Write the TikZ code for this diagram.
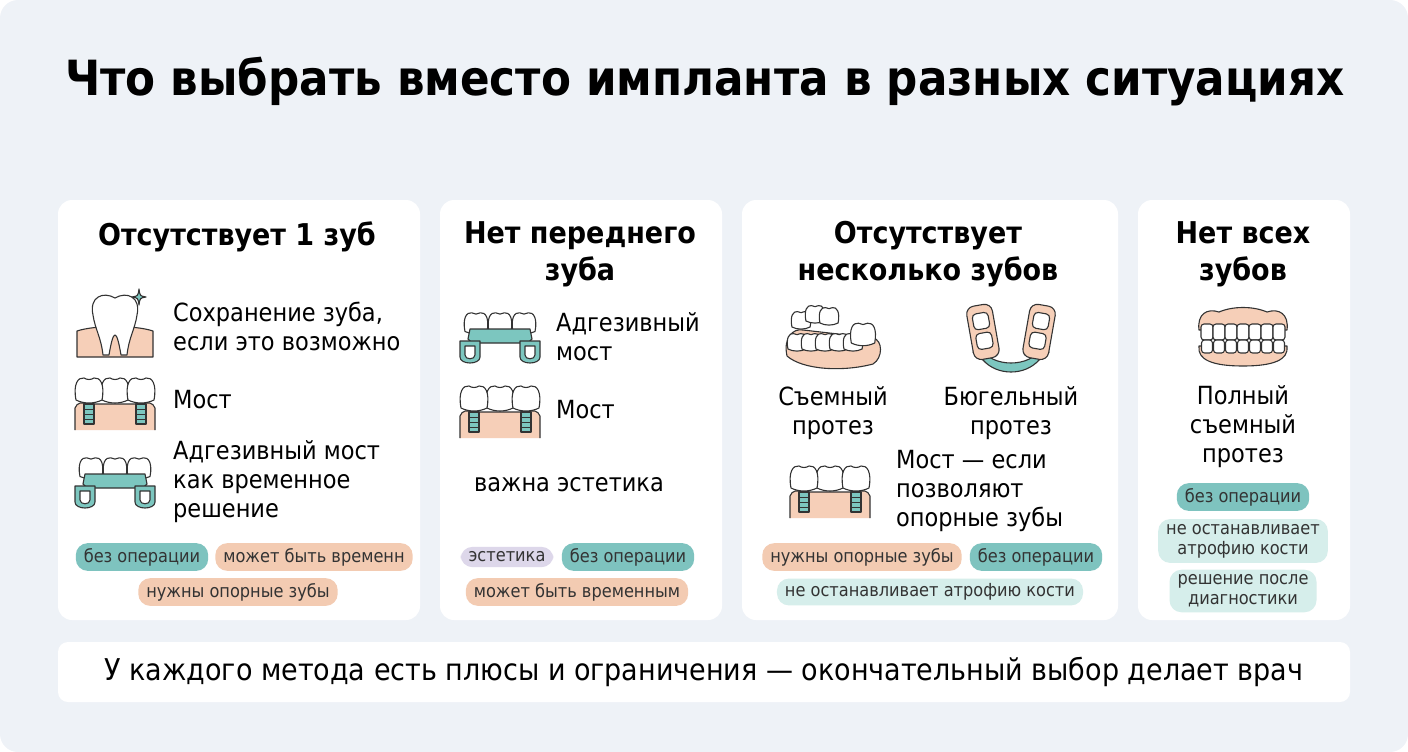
\documentclass[tikz,border=0pt]{standalone}
\usepackage{fontspec}
\setmainfont{DejaVu Sans Condensed}
\usetikzlibrary{positioning}
\definecolor{bgblue}{HTML}{EEF2F7}
\definecolor{tagteal}{HTML}{7EC3BF}
\definecolor{tagpeach}{HTML}{F3CBB2}
\definecolor{taglight}{HTML}{D6EEEB}
\definecolor{taglav}{HTML}{DDD7EA}
\definecolor{gumpeach}{HTML}{F6CFB8}
\definecolor{iconteal}{HTML}{7CC6BF}
\definecolor{inkgray}{HTML}{333333}

\tikzset{
  card/.style={fill=white, rounded corners=14pt, draw=none},
  head/.style={font=\bfseries\fontsize{30}{37}\selectfont, align=center},
  body/.style={font=\fontsize{25}{29}\selectfont, align=left, anchor=west, inner sep=0pt},
  bodyc/.style={font=\fontsize{25}{29}\selectfont, align=center, inner sep=0pt},
  tag/.style={rounded corners=12pt, font=\fontsize{18}{20}\selectfont, align=center,
    inner xsep=8pt, inner ysep=5pt, text=inkgray},
  ln/.style={draw=inkgray, line width=1.1pt, line join=round},
  pics/crown/.style={code={
    \path[ln, fill=white] (-13,10) .. controls (-16,-6) and (-11,-13) .. (-5,-12)
      .. controls (-2,-10) and (2,-10) .. (5,-12) .. controls (11,-13) and (16,-6) .. (13,10)
      .. controls (5,14) and (-5,14) .. (-13,10) -- cycle;}},
  pics/screw/.style={code={
    \path[ln, fill=iconteal] (-5,0) rectangle (5,20);
    \foreach \s in {5,10,15} \draw[inkgray, line width=0.8pt] (-5,\s) -- (5,\s);}},
  pics/gum/.style={code={
    \path[ln, fill=gumpeach] (-40,30) -- (-40,8) .. controls (-38,2) and (-32,2) .. (-28,4)
      -- (28,4) .. controls (32,2) and (38,2) .. (40,8) -- (40,30);}},
  pics/bridge/.style={code={
    \pic at (0,-2) {gum};
    \pic at (-26,2) {screw};
    \pic at (26,2) {screw};
    \pic at (0,-12) {crown};
    \pic at (-26,-12) {crown};
    \pic at (26,-12) {crown};}},
  pics/adhesive/.style={code={
    \foreach \cx in {-24,0,24} \pic[scale=0.85] at (\cx,-10) {crown};
    \path[ln, fill=iconteal] (-30,-4) -- (30,-4) -- (32,6) -- (28,10) -- (-28,10) -- (-32,6) -- cycle;
    \foreach \sx in {-30,30} {
      \path[ln, fill=iconteal] (\sx-10,8) -- (\sx+10,8) -- (\sx+10,24) .. controls (\sx+10,32) and (\sx-10,32) .. (\sx-10,24) -- cycle;
      \path[ln, fill=white] (\sx-5,13) -- (\sx+5,13) -- (\sx+5,22) .. controls (\sx+5,27) and (\sx-5,27) .. (\sx-5,22) -- cycle;}}},
  pics/tooth/.style={code={
    \path[ln, fill=gumpeach] (-38,32) -- (-38,6) .. controls (-20,0) and (20,0) .. (38,6) -- (38,32) -- cycle;
    \path[ln, fill=white] (-22,-10) .. controls (-26,-28) and (-12,-34) .. (0,-27)
      .. controls (12,-34) and (26,-28) .. (22,-10) .. controls (20,4) and (14,12) .. (12,30)
      -- (6,30) .. controls (4,18) and (2,10) .. (0,10) .. controls (-2,10) and (-4,18) .. (-6,30)
      -- (-12,30) .. controls (-14,12) and (-20,4) .. (-22,-10) -- cycle;
    \path[ln, fill=iconteal] (24,-36) .. controls (25,-29) .. (31,-28) .. controls (25,-27) .. (24,-20)
      .. controls (23,-27) .. (17,-28) .. controls (23,-29) .. (24,-36) -- cycle;}},
  pics/partial/.style={code={
    \path[ln, fill=gumpeach] (-46,18) .. controls (-50,0) and (-40,-10) .. (-30,-8) -- (40,0)
      .. controls (50,2) and (50,20) .. (40,26) .. controls (10,34) and (-30,32) .. (-46,18) -- cycle;
    \foreach \cx/\cy in {-32/-18,-18/-24,-4/-22} \pic[scale=0.7] at (\cx,\cy) {crown};
    \foreach \cx in {-36,-22,-8,6,20} \pic[scale=0.7] at (\cx,4) {crown};
    \pic[scale=0.9] at (30,-4) {crown};}},
  pics/bugel/.style={code={
    \path[ln, fill=iconteal] (-30,18) .. controls (-20,38) and (20,38) .. (30,18)
      -- (38,22) .. controls (34,28) .. (28,30) .. controls (14,46) and (-14,46) .. (-28,30)
      .. controls (-34,28) .. (-38,22) -- cycle;
    \foreach \sx in {-1,1} {
      \path[ln, fill=gumpeach, rounded corners=8pt, rotate=\sx*-10] (\sx*28-13,-30) rectangle (\sx*28+13,24);
      \foreach \ty in {-14,6} \path[ln, fill=white, rounded corners=4pt, rotate=\sx*-10] (\sx*28-8,\ty-8) rectangle (\sx*28+8,\ty+8);}}},
  pics/fulldent/.style={code={
    \path[ln, fill=gumpeach] (-44,-8) .. controls (-46,-24) and (-36,-30) .. (-24,-26)
      .. controls (-10,-32) and (10,-32) .. (24,-26) .. controls (36,-30) and (46,-24) .. (44,-8) -- cycle;
    \path[ln, fill=gumpeach] (-44,8) .. controls (-46,22) and (-30,28) .. (0,28)
      .. controls (30,28) and (46,22) .. (44,8) -- cycle;
    \foreach \cx in {-36,-24,-12,0,12,24,36} {
      \path[ln, fill=white, rounded corners=3pt] (\cx-6,-14) rectangle (\cx+6,2);
      \path[ln, fill=white, rounded corners=3pt] (\cx-5.5,2) rectangle (\cx+5.5,15);}}}
}

\begin{document}
\begin{tikzpicture}[x=1pt, y=-1pt]
  \useasboundingbox (0,0) rectangle (1408,752);
  \fill[bgblue, rounded corners=18pt] (0,0) rectangle (1408,752);

  % Title
  \node[font=\bfseries\fontsize{48.5}{52}\selectfont] (title) at (705,82) {Что выбрать вместо импланта в разных ситуациях};

  % Cards
  \path[card] (58,200) rectangle (420,620);
  \path[card] (440,200) rectangle (722,620);
  \path[card] (742,200) rectangle (1118,620);
  \path[card] (1138,200) rectangle (1350,620);
  \path[card, rounded corners=10pt] (58,642) rectangle (1350,702);

  % Card 1
  \node[head] (h1) at (237,237) {Отсутствует 1 зуб};
  \pic at (115,325) {tooth};
  \node[body] (t1) at (173,326) {Сохранение зуба,\\если это возможно};
  \pic at (115,402) {bridge};
  \node[body] (t2) at (173,400) {Мост};
  \pic at (115,478) {adhesive};
  \node[body] (t3) at (173,482) {Адгезивный мост\\как временное\\решение};
  \node[tag, fill=tagteal] (g1) at (142,557) {без операции};
  \node[tag, fill=tagpeach] (g2) at (314,557) {может быть временн};
  \node[tag, fill=tagpeach] (g3) at (238,592) {нужны опорные зубы};

  % Card 2
  \node[head] (h2) at (580,254) {Нет переднего\\зуба};
  \pic at (500,333) {adhesive};
  \node[body] (u1) at (556,337) {Адгезивный\\мост};
  \pic at (500,410) {bridge};
  \node[body] (u2) at (556,410) {Мост};
  \node[body] (u3) at (474,485) {важна эстетика};
  \node[tag, fill=taglav] (k1) at (507,557) {эстетика};
  \node[tag, fill=tagteal] (k2) at (628,557) {без операции};
  \node[tag, fill=tagpeach] (k3) at (577,592) {может быть временным};

  % Card 3
  \node[head] (h3) at (928,254) {Отсутствует\\несколько зубов};
  \pic at (833,338) {partial};
  \pic at (1011,330) {bugel};
  \node[bodyc] (v1) at (833,413) {Съемный\\протез};
  \node[bodyc] (v2) at (1011,413) {Бюгельный\\протез};
  \pic at (830,490) {bridge};
  \node[body] (v3) at (896,491) {Мост — если\\позволяют\\опорные зубы};
  \node[tag, fill=tagpeach] (m1) at (862,557) {нужны опорные зубы};
  \node[tag, fill=tagteal] (m2) at (1036,557) {без операции};
  \node[tag, fill=taglight] (m3) at (930,592) {не останавливает атрофию кости};

  % Card 4
  \node[head] (h4) at (1243,254) {Нет всех\\зубов};
  \pic at (1243,338) {fulldent};
  \node[bodyc] (w1) at (1243,427) {Полный\\съемный\\протез};
  \node[tag, fill=tagteal] (n1) at (1243,497) {без операции};
  \node[tag, fill=taglight] (n2) at (1243,541) {не останавливает\\атрофию кости};
  \node[tag, fill=taglight] (n3) at (1243,591) {решение после\\диагностики};

  % Footer
  \node[font=\fontsize{30}{34}\selectfont] (foot) at (704,672) {У каждого метода есть плюсы и ограничения — окончательный выбор делает врач};
\end{tikzpicture}
\end{document}
